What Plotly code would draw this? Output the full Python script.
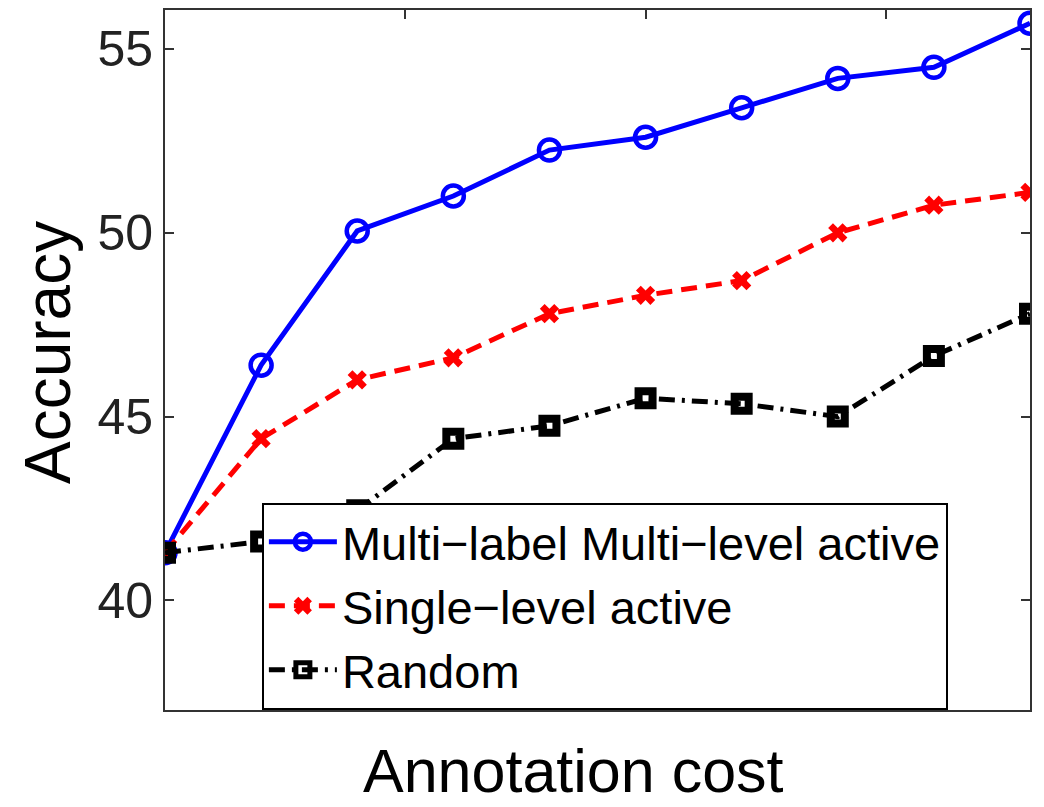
import plotly.graph_objects as go

steps = [0, 1, 2, 3, 4, 5, 6, 7, 8, 9]
multi_label = [41.3, 46.4, 50.05, 51.0, 52.25, 52.6, 53.4, 54.2, 54.5, 55.7]
single_level = [41.3, 44.4, 46.0, 46.6, 47.8, 48.3, 48.7, 50.0, 50.75, 51.1]
random_sel = [41.3, 41.6, 42.45, 44.4, 44.75, 45.5, 45.35, 45.0, 46.65, 47.8]
names = ["Multi\u2212label Multi\u2212level active", "Single\u2212level active", "Random"]
y_ticks = [40, 45, 50, 55]
x_ticks = [2.5, 5, 7.5]

FONT = "Liberation Sans, Arial, sans-serif"

fig = go.Figure()
fig.add_trace(go.Scatter(
    x=steps, y=multi_label, name=names[0], mode="lines+markers",
    line=dict(color="#0000ff", width=5),
    marker=dict(symbol="circle-open", size=21, color="#0000ff", line=dict(width=4.5, color="#0000ff")),
))
fig.add_trace(go.Scatter(
    x=steps, y=single_level, name=names[1], mode="lines+markers",
    line=dict(color="#ff0000", width=5, dash="16px,9px"),
    marker=dict(symbol="x", size=17, color="#ff0000", line=dict(width=0)),
))
fig.add_trace(go.Scatter(
    x=steps, y=random_sel, name=names[2], mode="lines+markers",
    line=dict(color="#000000", width=5, dash="16px,7px,3px,7px"),
    marker=dict(symbol="square-open", size=14, color="#000000", line=dict(width=8, color="#000000")),
))

fig.update_layout(
    width=1044, height=807,
    margin=dict(l=165, r=14, t=8, b=97),
    paper_bgcolor="white", plot_bgcolor="white",
    font=dict(family=FONT, color="black"),
    showlegend=True,
    legend=dict(
        x=0.112, y=(710 - 502) / 702, xanchor="left", yanchor="top",
        bgcolor="white", bordercolor="black", borderwidth=2,
        font=dict(size=47, family=FONT, color="black"),
        tracegroupgap=0, itemwidth=68,
    ),
    xaxis=dict(
        range=[0, 9], tickvals=x_ticks, showticklabels=False,
        ticks="inside", ticklen=9, tickwidth=1.5, tickcolor="#333",
        showline=True, linecolor="#333", linewidth=2, mirror="ticks",
        showgrid=False, zeroline=False,
    ),
    yaxis=dict(
        range=[37.02, 56.06], tickvals=y_ticks,
        ticks="inside", ticklen=9, tickwidth=1.5, tickcolor="#333",
        showline=True, linecolor="#333", linewidth=2, mirror="ticks",
        showgrid=False, zeroline=False,
        tickfont=dict(size=50, family=FONT, color="#222"),
    ),
    annotations=[
        dict(text="Annotation cost", xref="paper", yref="paper", x=(573 - 165) / 865, y=-(807 - 710) / 702,
             xanchor="center", yanchor="bottom", showarrow=False,
             font=dict(size=61, family=FONT, color="black")),
        dict(text="Accuracy", xref="paper", yref="paper", x=-(165 - 48) / 865, y=(710 - 352) / 702,
             xanchor="center", yanchor="middle", textangle=-90, showarrow=False,
             font=dict(size=64, family=FONT, color="black")),
    ],
)

fig.write_html("out.html")
